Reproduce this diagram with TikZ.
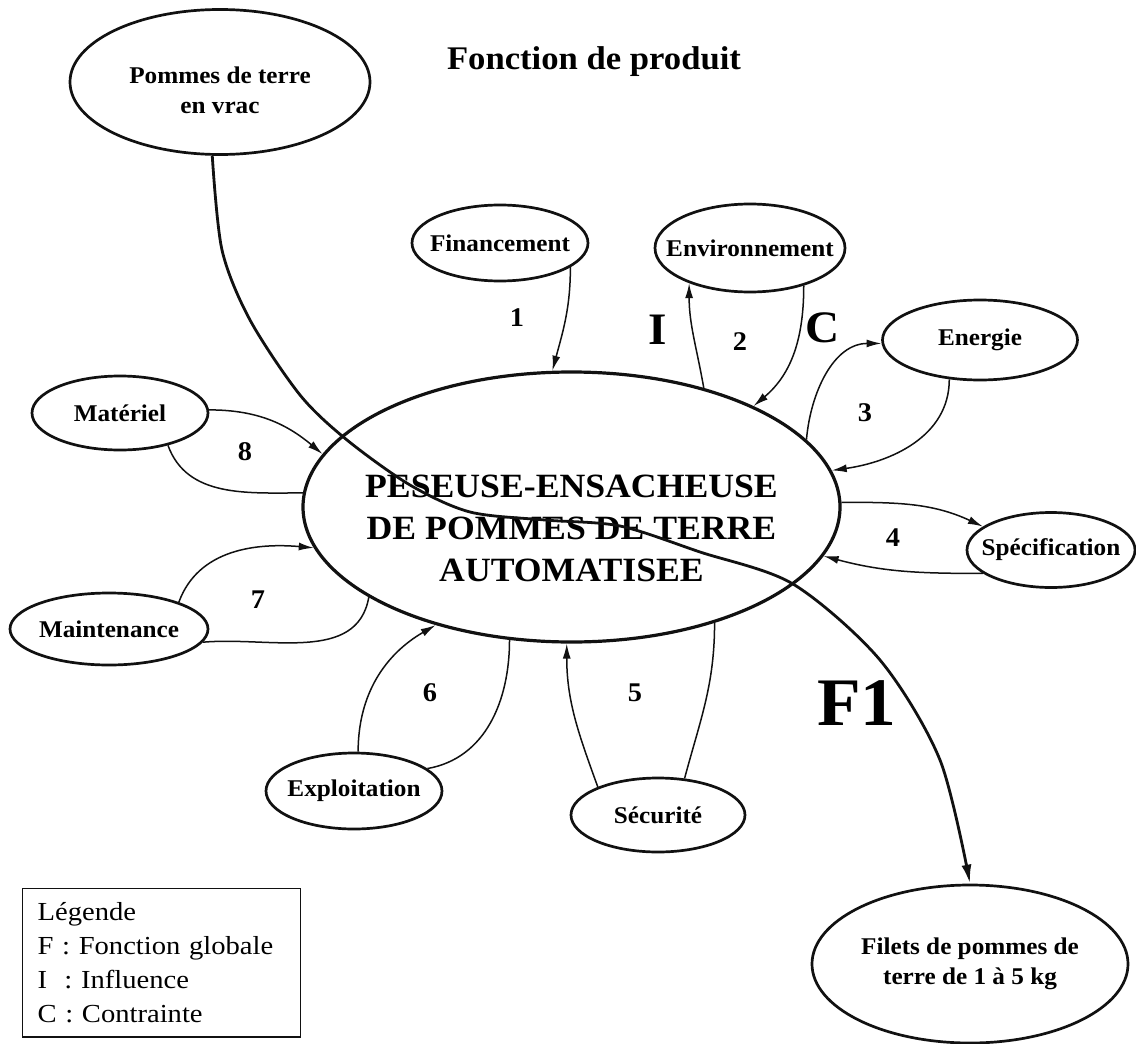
\documentclass[tikz,border=0pt]{standalone}
\usepackage{fontspec}
\setmainfont[FakeStretch=1.05]{Liberation Serif}
\newfontfamily\legfont[FakeStretch=1.1]{Liberation Serif}
\usepackage{xcolor}
\definecolor{traitnoir}{HTML}{111111}
\usetikzlibrary{shapes.geometric,arrows.meta}

\tikzset{
  boite/.style={draw=traitnoir, ellipse, line width=2.7pt, inner sep=0pt},
  etiq/.style={font=\fontsize{24}{30}\selectfont\bfseries, align=center},
  lien/.style={draw=traitnoir, line width=1.5pt, -{Latex[length=15pt,width=8pt]}},
  trait/.style={draw=traitnoir, line width=1.5pt},
  chiffre/.style={font=\fontsize{27}{30}\selectfont\bfseries},
  lettre/.style={font=\fontsize{45}{50}\selectfont\bfseries},
}

\begin{document}
\begin{tikzpicture}[x=1pt,y=-1pt]
  \useasboundingbox (0,0) rectangle (1136,1044);
  \fill[white] (0,0) rectangle (1136,1044);

  % titre
  \node[font=\fontsize{33}{36}\selectfont\bfseries] (titre) at (594,62) {Fonction de produit};

  % systeme
  \node[boite, line width=3.2pt, minimum width=537pt, minimum height=270pt,
        label={[font=\fontsize{34}{42}\selectfont\bfseries, align=center, yshift=-21pt]center:PESEUSE-ENSACHEUSE\\DE POMMES DE TERRE\\AUTOMATISEE}] (pes) at (571.5,507) {};

  % milieu exterieur
  \node[boite, minimum width=300pt, minimum height=145pt, label={[etiq, yshift=-8pt]center:Pommes de terre\\en vrac}] (vrac) at (220,82) {};
  \node[boite, minimum width=176pt, minimum height=76pt, label={[etiq]center:Financement}] (fin) at (500,243) {};
  \node[boite, minimum width=190pt, minimum height=88pt, label={[etiq]center:Environnement}] (env) at (750,248) {};
  \node[boite, minimum width=195pt, minimum height=80pt, label={[etiq]center:Energie}] (ene) at (980,340) {};
  \node[boite, minimum width=168pt, minimum height=75pt, label={[etiq]center:Spécification}] (spe) at (1051,550) {};
  \node[boite, minimum width=174pt, minimum height=74pt, label={[etiq]center:Sécurité}] (sec) at (658,815) {};
  \node[boite, minimum width=176pt, minimum height=76pt, label={[etiq]center:Exploitation}] (exp) at (354,791) {};
  \node[boite, minimum width=198pt, minimum height=72pt, label={[etiq]center:Maintenance}] (mai) at (109,629) {};
  \node[boite, minimum width=176pt, minimum height=74pt, label={[etiq]center:Matériel}] (mat) at (120,413) {};
  \node[boite, minimum width=316pt, minimum height=158pt, label={[etiq]center:Filets de pommes de\\terre de 1 à 5 kg}] (fil) at (970,964) {};

  % liaisons
  \draw[lien] (fin.341) to[out=-90,in=75] (pes.98);
  \draw[lien] (pes.42) to[out=100,in=-90] (env.210);
  \draw[lien] (env.325) to[out=-90,in=40] (pes.29);
  \draw[lien] (pes.16) to[out=85,in=180] (ene.182);
  \draw[lien] (ene.232) to[out=-90,in=8] (pes.8);
  \draw[lien] (pes.1) to[out=0,in=155] (spe.161);
  \draw[lien] (spe.199) to[out=180,in=-15] (pes.349);
  \draw[lien] (sec.155) to[out=110,in=-90] (pes.268);
  \draw[trait] (sec.54) to[out=75,in=-90] (pes.321);
  \draw[lien] (exp.84) to[out=90,in=210] (pes.221);
  \draw[trait] (pes.245) to[out=-90,in=10] (exp.17);
  \draw[lien] (mai.21) to[out=70,in=175] (pes.189);
  \draw[trait] (pes.204) to[out=-100,in=5] (mai.352);
  \draw[lien] (mat.2) to[out=0,in=140] (pes.168);
  \draw[trait] (mat.326) to[out=-70,in=180] (pes.177);

  % fonction globale
  \draw[draw=traitnoir, line width=2.8pt, -{Latex[length=19pt,width=10pt]}] plot[smooth, tension=0.5] coordinates {(vrac.264) (222,250) (250,320) (300,395) (347,440) (410,485) (470,512) (545,520) (620,526) (700,552) (793,584) (880,660) (940,760) (fil.north)};

  % reperes
  \node[chiffre] (n1) at (517,318) {1};
  \node[lettre] (li) at (658,330) {I};
  \node[chiffre] (n2) at (740,342) {2};
  \node[lettre] (lc) at (823,328) {C};
  \node[chiffre] (n3) at (865,413) {3};
  \node[chiffre] (n4) at (893,538) {4};
  \node[chiffre] (n5) at (635,693) {5};
  \node[chiffre] (n6) at (430,693) {6};
  \node[chiffre] (n7) at (258,600) {7};
  \node[chiffre] (n8) at (245,452) {8};
  \node[font=\fontsize{68}{70}\selectfont\bfseries] (f1) at (857,703) {F1};

  % legende
  \node[draw=traitnoir, line width=1.2pt, anchor=north west, text width=248pt, inner xsep=15pt, inner ysep=14pt, align=left, font=\legfont\fontsize{26}{34}\selectfont] (leg) at (22,888) {Légende\\F : Fonction globale\\I\ \ : Influence\\C : Contrainte};
\end{tikzpicture}
\end{document}
